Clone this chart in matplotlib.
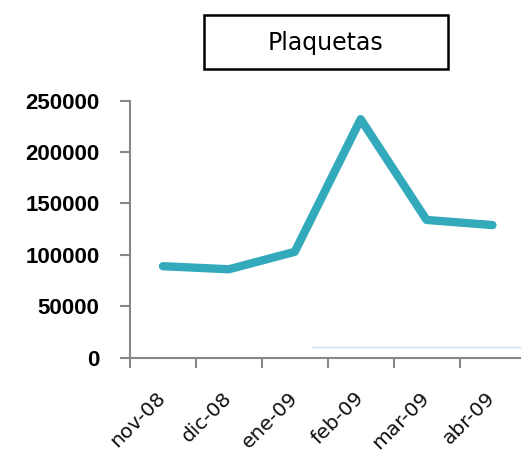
import matplotlib.pyplot as plt
from matplotlib.patches import Rectangle
import numpy as np

# Datos: recuento de plaquetas por mes
meses = ["nov-08", "dic-08", "ene-09", "feb-09", "mar-09", "abr-09"]
plaquetas = [89000, 86000, 103000, 232000, 134000, 129000]
yticks = [0, 50000, 100000, 150000, 200000, 250000]

fig = plt.figure(figsize=(5.21, 4.53), dpi=100)
ax = fig.add_axes([0.2495, 0.2104, 0.7590, 0.5673])

x = np.arange(len(meses))
ax.plot(x, plaquetas, color="#33a9bc", linewidth=6, solid_capstyle="round",
        solid_joinstyle="round")

# Trazo fino claro cerca de la base
ax.plot([0.46, 1.0], [0.042, 0.042], transform=ax.transAxes,
        color="#bfe3e6", linewidth=1)

ax.set_xlim(-0.5, len(meses) - 0.5)
ax.set_ylim(0, 250000)

# Ejes: solo izquierdo e inferior, en gris
for lado in ["top", "right"]:
    ax.spines[lado].set_visible(False)
for lado in ["left", "bottom"]:
    ax.spines[lado].set_color("#888888")
    ax.spines[lado].set_linewidth(1.5)

ax.set_yticks(yticks)
ax.set_yticklabels([str(v) for v in yticks], fontsize=16, fontweight="bold",
                   family="Liberation Sans")
ax.tick_params(axis="y", length=7, width=1.5, color="#888888", pad=15)

# Marcas del eje X entre categorías, etiquetas centradas
ax.set_xticks(x)
ax.set_xticks(np.arange(-0.5, len(meses), 1), minor=True)
ax.tick_params(axis="x", which="major", length=0, pad=27)
ax.tick_params(axis="x", which="minor", length=7, width=1.5, color="#888888")
ax.set_xticklabels(meses, rotation=45, ha="right", va="center",
                   rotation_mode="anchor", fontsize=14.5, color="#111111")

# Título con recuadro
fig.patches.append(Rectangle((204 / 521, 1 - 69 / 453), 244 / 521, 54 / 453,
                             transform=fig.transFigure, fill=False,
                             edgecolor="black", linewidth=1.8))
fig.text(326 / 521, 1 - 43 / 453, "Plaquetas", ha="center", va="center",
         fontsize=17)

plt.savefig("out.png", dpi=100)
